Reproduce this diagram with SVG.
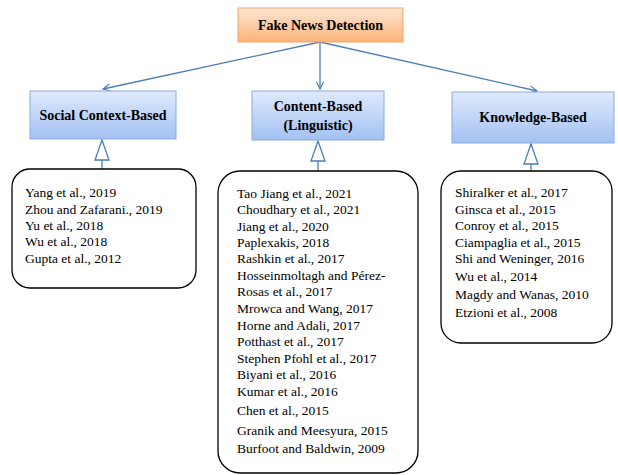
<svg xmlns="http://www.w3.org/2000/svg" width="618" height="475" viewBox="0 0 618 475">
<defs>
<linearGradient id="gOrange" x1="0" y1="0" x2="0" y2="1">
<stop offset="0" stop-color="#fde6d2"/><stop offset="1" stop-color="#fab47a"/>
</linearGradient>
<linearGradient id="gBlue" x1="0" y1="0" x2="0" y2="1">
<stop offset="0" stop-color="#dfeafc"/><stop offset="1" stop-color="#a3c1f3"/>
</linearGradient>
<marker id="open" viewBox="0 0 10 10" refX="9" refY="5" markerWidth="9" markerHeight="9" markerUnits="userSpaceOnUse" orient="auto">
<path d="M1,1 L9,5 L1,9" fill="none" stroke="#4a7ebb" stroke-width="1.3"/>
</marker>
</defs>
<style>
text{font-family:'Liberation Serif','DejaVu Serif',serif}
.hdr{font-weight:bold;font-size:14px;fill:#000;text-anchor:middle}
.lst{font-size:13.5px;fill:#000}
.bbox{fill:url(#gBlue);stroke:#8eaadb;stroke-width:1}
.obox{fill:url(#gOrange);stroke:#f4a46a;stroke-width:1}
.list{fill:#fff;stroke:#000;stroke-width:1.3}
.conn{stroke:#4a7ebb;stroke-width:1.3;fill:none}
.tri{fill:#fff;stroke:#4a7ebb;stroke-width:1.3}
</style>
<g id="connectors">
<line class="conn" x1="320" y1="42" x2="103" y2="89" marker-end="url(#open)"/>
<line class="conn" x1="320" y1="42" x2="320" y2="89" marker-end="url(#open)"/>
<line class="conn" x1="320" y1="42" x2="537" y2="91" marker-end="url(#open)"/>
<line class="conn" x1="102" y1="160" x2="102" y2="169"/>
<polygon class="tri" points="102,140 95,160 109,160"/>
<line class="conn" x1="318" y1="161" x2="318" y2="171"/>
<polygon class="tri" points="318,141 311,161 325,161"/>
<line class="conn" x1="531" y1="164" x2="531" y2="171"/>
<polygon class="tri" points="531,144 524,164 538,164"/>
</g>
<g id="fake-news-detection">
<rect class="obox" x="238" y="8" width="165" height="34"/>
<text class="hdr" font-family="Liberation Serif" x="320.5" y="30">Fake News Detection</text>
</g>
<g id="social-context-based">
<rect class="bbox" x="30" y="91" width="146" height="48"/>
<text class="hdr" x="103" y="120">Social Context-Based</text>
</g>
<g id="content-based">
<rect class="bbox" x="252" y="91" width="132" height="49"/>
<text class="hdr" x="318" y="111">Content-Based</text>
<text class="hdr" x="318" y="130">(Linguistic)</text>
</g>
<g id="knowledge-based">
<rect class="bbox" x="452" y="92" width="162" height="51"/>
<text class="hdr" x="533" y="122">Knowledge-Based</text>
</g>
<g id="social-list">
<rect class="list" x="12" y="169" width="184" height="119" rx="18"/>
<text class="lst" x="25" y="197">Yang et al., 2019</text>
<text class="lst" x="25" y="214">Zhou and Zafarani., 2019</text>
<text class="lst" x="25" y="230">Yu et al., 2018</text>
<text class="lst" x="25" y="246">Wu et al., 2018</text>
<text class="lst" x="25" y="263">Gupta et al., 2012</text>
</g>
<g id="content-list">
<rect class="list" x="218" y="171" width="200" height="302" rx="22"/>
<text class="lst" x="237" y="198">Tao Jiang et al., 2021</text>
<text class="lst" x="237" y="214">Choudhary et al., 2021</text>
<text class="lst" x="237" y="231">Jiang et al., 2020</text>
<text class="lst" x="237" y="247">Paplexakis, 2018</text>
<text class="lst" x="237" y="263">Rashkin et al., 2017</text>
<text class="lst" x="237" y="280">Hosseinmoltagh and Pérez-</text>
<text class="lst" x="237" y="296">Rosas et al., 2017</text>
<text class="lst" x="237" y="313">Mrowca and Wang, 2017</text>
<text class="lst" x="237" y="330">Horne and Adali, 2017</text>
<text class="lst" x="237" y="346">Potthast et al., 2017</text>
<text class="lst" x="237" y="363">Stephen Pfohl et al., 2017</text>
<text class="lst" x="237" y="379">Biyani et al., 2016</text>
<text class="lst" x="237" y="396">Kumar et al., 2016</text>
<text class="lst" x="237" y="415">Chen et al., 2015</text>
<text class="lst" x="237" y="435">Granik and Meesyura, 2015</text>
<text class="lst" x="237" y="453">Burfoot and Baldwin, 2009</text>
</g>
<g id="knowledge-list">
<rect class="list" x="441" y="171" width="171" height="172" rx="20"/>
<text class="lst" x="455" y="197">Shiralker et al., 2017</text>
<text class="lst" x="455" y="214">Ginsca et al., 2015</text>
<text class="lst" x="455" y="230">Conroy et al., 2015</text>
<text class="lst" x="455" y="247">Ciampaglia et al., 2015</text>
<text class="lst" x="455" y="263">Shi and Weninger, 2016</text>
<text class="lst" x="455" y="281">Wu et al., 2014</text>
<text class="lst" x="455" y="299">Magdy and Wanas, 2010</text>
<text class="lst" x="455" y="317">Etzioni et al., 2008</text>
</g>
</svg>
